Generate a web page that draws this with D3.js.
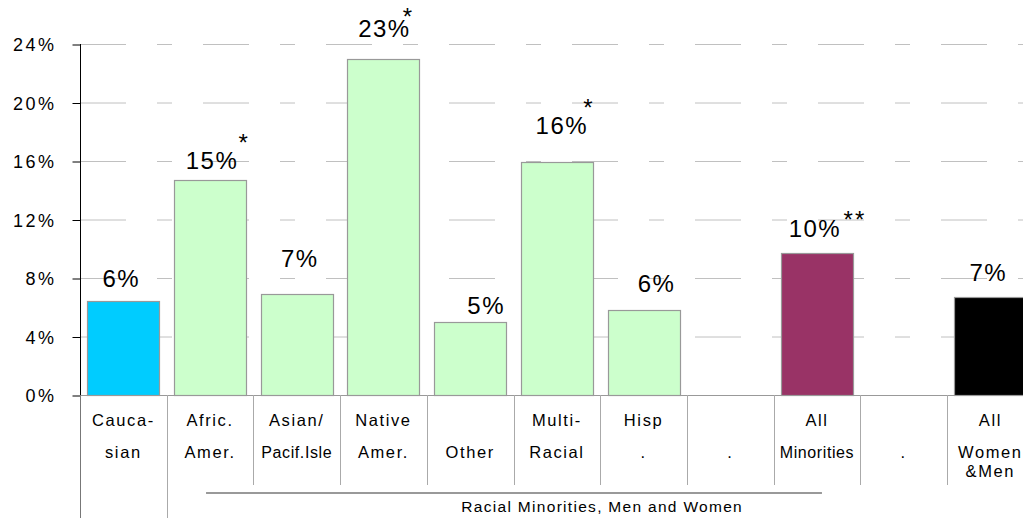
<!DOCTYPE html>
<meta charset="utf-8">
<script src="https://d3js.org/d3.v7.min.js"></script>
<style>
  body { margin: 0; background: #fff; }
  text { font-family: "Liberation Sans", Arial, sans-serif; fill: #000; }
</style>
<div id="my_dataviz"></div>
<script>

    // data
    var ids = ["cauc", "afric", "asian", "native", "other", "multi", "hisp", "gap1", "allmin", "gap2", "all"]
    var labels = [
        ["Cauca-", "sian"], ["Afric.", "Amer."], ["Asian/", "Pacif.Isle"], ["Native", "Amer."],
        ["", "Other"], ["Multi-", "Racial"], ["Hisp", "."], ["", "."], ["All", "Minorities"],
        ["", "."], ["All", "Women", "&Men"]
    ]
    var values = [6.4, 14.7, 6.9, 23.0, 5.0, 15.9, 5.8, null, 9.7, null, 6.7]
    var valueLabels = ["6%", "15%", "7%", "23%", "5%", "16%", "6%", "", "10%", "", "7%"]
    var notes = ["", "*", "", "*", "", "*", "", "", "**", "", ""]
    var yTicks = [0, 4, 8, 12, 16, 20, 24]
    var groupTitle = "Racial Minorities, Men and Women"

    // layout
    var colors = ["#00CCFF", "#CCFFCC", "#CCFFCC", "#CCFFCC", "#CCFFCC", "#CCFFCC", "#CCFFCC", "none", "#993366", "none", "#000000"]
    var labelDx = [-2, 2, 3, 1, 16, 5, 13, 0, -2, 0, -2]
    var labelDy = [-23, -20, -36, -30, -16, -37, -27, 0, -25, 0, -25]
    var noteDx = [0, 34, 0, 25, 0, 32, 0, 0, 38, 0, 0]
    var noteDy = [0, -42, 0, -47, 0, -59, 0, 0, -38, 0, 0]

    var W = 1023, H = 518
    var plotLeft = 80, plotTop = 44, plotBottom = 395

    var svg = d3.select("#my_dataviz")
        .append("svg")
        .attr("width", W)
        .attr("height", H)

    var x = d3.scaleBand()
        .domain(ids)
        .range([plotLeft, plotLeft + 11 * 86.7])
        .paddingInner(0.17)
        .paddingOuter(0.085)

    var y = d3.scaleLinear()
        .domain([0, 24])
        .range([plotBottom, plotTop])

    // dashed gridlines
    svg.append("g")
        .selectAll("line")
        .data(yTicks.slice(1))
        .enter()
        .append("line")
        .attr("x1", plotLeft)
        .attr("x2", W)
        .attr("y1", function(d) { return y(d) + 0.5 })
        .attr("y2", function(d) { return y(d) + 0.5 })
        .attr("stroke", "#c0c0c0")
        .attr("stroke-width", 1)
        .attr("stroke-dasharray", "46,31,15,31")

    // Y axis
    var yAxis = svg.append("g")
        .attr("transform", "translate(" + (plotLeft + 0.5) + ",0.5)")
        .call(d3.axisLeft(y).tickValues(yTicks).tickSize(8).tickPadding(16)
            .tickFormat(function(d) { return d + "%" }))
    yAxis.select(".domain").attr("stroke", "#000").attr("d", "M0," + (plotTop - 0.5) + "V" + (plotBottom - 0.5))
    yAxis.selectAll(".tick line").attr("stroke", "#000")
    yAxis.selectAll(".tick text")
        .style("font-family", "'Liberation Sans', Arial, sans-serif")
        .style("font-size", "18px")
        .style("letter-spacing", "2.5px")
        .attr("dy", "0.36em")
        .attr("fill", "#000")

    // bars
    var idx = d3.range(ids.length).filter(function(i) { return values[i] != null })
    svg.append("g")
        .selectAll("rect")
        .data(idx)
        .enter()
        .append("rect")
        .attr("x", function(i) { return Math.round(x(ids[i])) + 0.5 })
        .attr("y", function(i) { return Math.round(y(values[i])) + 0.5 })
        .attr("width", Math.round(x.bandwidth()))
        .attr("height", function(i) { return Math.round(y(0)) - Math.round(y(values[i])) })
        .attr("fill", function(i) { return colors[i] })
        .attr("stroke", "#999")
        .attr("stroke-width", 1.2)

    // value labels
    svg.append("g")
        .selectAll("text")
        .data(idx)
        .enter()
        .append("text")
        .attr("x", function(i) { return x(ids[i]) + x.bandwidth() / 2 + labelDx[i] })
        .attr("y", function(i) { return y(values[i]) + labelDy[i] + 8.5 })
        .attr("text-anchor", "middle")
        .style("font-size", "24px")
        .style("letter-spacing", "1.5px")
        .text(function(i) { return valueLabels[i] })

    // significance marks
    svg.append("g")
        .selectAll("text")
        .data(idx.filter(function(i) { return notes[i] }))
        .enter()
        .append("text")
        .attr("x", function(i) { return x(ids[i]) + x.bandwidth() / 2 + noteDx[i] })
        .attr("y", function(i) { return y(values[i]) + noteDy[i] + 13 })
        .attr("text-anchor", "middle")
        .style("font-size", "24px")
        .style("letter-spacing", "2px")
        .text(function(i) { return notes[i] })

    // category axis: baseline, separators and labels
    var step = x.step()
    svg.append("line")
        .attr("x1", plotLeft).attr("x2", W)
        .attr("y1", plotBottom + 0.5).attr("y2", plotBottom + 0.5)
        .attr("stroke", "#999")

    var seps = d3.range(ids.length + 1)
    svg.append("g")
        .selectAll("line")
        .data(seps)
        .enter()
        .append("line")
        .attr("x1", function(k) { return Math.round(plotLeft + k * step) + 0.5 })
        .attr("x2", function(k) { return Math.round(plotLeft + k * step) + 0.5 })
        .attr("y1", plotBottom)
        .attr("y2", function(k) { return k < 2 ? H : 485 })
        .attr("stroke", function(k) { return k == 0 ? "#777" : "#aaa" })

    var cat = svg.append("g")
        .selectAll("g")
        .data(d3.range(ids.length))
        .enter()
        .append("g")
        .attr("transform", function(i) { return "translate(" + (plotLeft + i * step + step / 2) + ",0)" })

    cat.selectAll("text")
        .data(function(i) { return labels[i].map(function(t, j) { return {t: t, j: j} }) })
        .enter()
        .append("text")
        .attr("text-anchor", "middle")
        .attr("y", function(d) { return [426, 458, 477][d.j] })
        .style("font-size", function(d) { return d.t == "Pacif.Isle" || d.t == "Minorities" ? "16px" : "16.5px" })
        .style("letter-spacing", function(d) { return d.t == "Pacif.Isle" || d.t == "Minorities" ? "0.6px" : "1.6px" })
        .text(function(d) { return d.t })

    // group bracket for racial minorities
    var gStart = x("afric") + x.bandwidth() / 2 - 4
    var gEnd = x("allmin") + x.bandwidth() / 2 + 5
    svg.append("line")
        .attr("x1", gStart).attr("x2", gEnd)
        .attr("y1", 493).attr("y2", 493)
        .attr("stroke", "#999")
        .attr("stroke-width", 2)

    svg.append("text")
        .attr("x", plotLeft + 6 * step + 2)
        .attr("y", 512)
        .attr("text-anchor", "middle")
        .style("font-size", "15.5px")
        .style("letter-spacing", "1.3px")
        .text(groupTitle)

</script>
